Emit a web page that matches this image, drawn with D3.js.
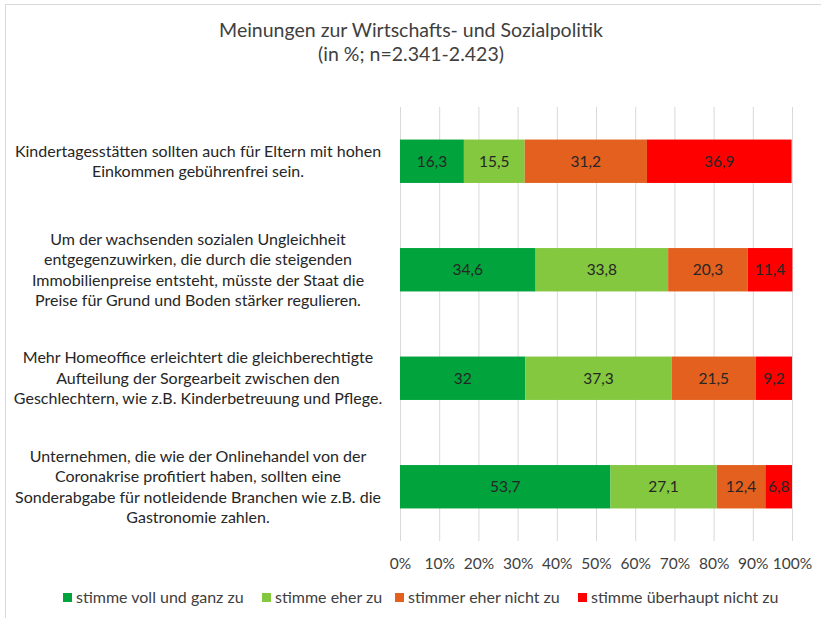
<!DOCTYPE html>
<html><head><meta charset="utf-8">
<script src="https://cdn.jsdelivr.net/npm/d3@7"></script>
<style>body{margin:0;background:#fff}svg{display:block;font-family:Lato,"Open Sans",sans-serif}</style>
</head><body><svg id="c" width="821" height="618"></svg>
<script>
const title = ["Meinungen zur Wirtschafts- und Sozialpolitik", "(in %; n=2.341-2.423)"];
const categories = [
  ["Kindertagesstätten sollten auch für Eltern mit hohen", "Einkommen gebührenfrei sein."],
  ["Um der wachsenden sozialen Ungleichheit", "entgegenzuwirken, die durch die steigenden", "Immobilienpreise entsteht, müsste der Staat die", "Preise für Grund und Boden stärker regulieren."],
  ["Mehr Homeoffice erleichtert die gleichberechtigte", "Aufteilung der Sorgearbeit zwischen den", "Geschlechtern, wie z.B. Kinderbetreuung und Pflege."],
  ["Unternehmen, die wie der Onlinehandel von der", "Coronakrise profitiert haben, sollten eine", "Sonderabgabe für notleidende Branchen wie z.B. die", "Gastronomie zahlen."]
];
const seriesNames = ["stimme voll und ganz zu", "stimme eher zu", "stimmer eher nicht zu", "stimme überhaupt nicht zu"];
const vollUndGanz = [16.3, 34.6, 32, 53.7];
const eher = [15.5, 33.8, 37.3, 27.1];
const eherNicht = [31.2, 20.3, 21.5, 12.4];
const ueberhauptNicht = [36.9, 11.4, 9.2, 6.8];
const colors = ["#00a33c", "#83c83e", "#e4601f", "#ff0000"];
const ticks = [0,10,20,30,40,50,60,70,80,90,100];

const series = [vollUndGanz, eher, eherNicht, ueberhauptNicht];
const svg = d3.select("#c");
const fmt = v => String(v).replace(".", ",");

// border
svg.append("rect").attr("x",5.5).attr("y",4.5).attr("width",900).attr("height",700)
  .attr("fill","none").attr("stroke","#d9d9d9").attr("stroke-width",1);

// title
svg.append("g").selectAll("text").data(title).join("text")
  .attr("x",411).attr("y",(d,i)=>37+i*24).attr("text-anchor","middle")
  .attr("fill","#404040").attr("font-size",19.5).text(d=>d);

const x = d3.scaleLinear().domain([0,100]).range([400,792]);
const y = d3.scaleBand().domain(d3.range(categories.length)).range([107,541]).paddingInner(0.6).paddingOuter(0.3);

// gridlines
svg.append("g").selectAll("line").data(ticks).join("line")
  .attr("x1",d=>x(d)+0.5).attr("x2",d=>x(d)+0.5).attr("y1",107).attr("y2",541)
  .attr("stroke","#d9d9d9").attr("stroke-width",1);

// axis labels
const ax = svg.append("g").attr("transform","translate(0,541)")
  .call(d3.axisBottom(x).tickValues(ticks).tickFormat(d=>d+"%").tickSize(0).tickPadding(17));
ax.select(".domain").remove();
ax.selectAll("text").attr("font-size",15.5).attr("fill","#404040").attr("font-family","Lato");

// bars
const stacked = categories.map((c,i)=>{
  let acc=0; return series.map((s,k)=>{const v=s[i]; const r={i,k,x0:acc,x1:acc+v,v}; acc+=v; return r;});
}).flat();
const g = svg.append("g");
g.selectAll("rect").data(stacked).join("rect")
  .attr("x",d=>x(d.x0)).attr("width",d=>x(d.x1)-x(d.x0))
  .attr("y",d=>y(d.i)).attr("height",y.bandwidth())
  .attr("fill",d=>colors[d.k]);
g.selectAll("text").data(stacked).join("text")
  .attr("x",d=>(x(d.x0)+x(d.x1))/2).attr("y",d=>y(d.i)+y.bandwidth()/2).attr("dy","0.35em")
  .attr("text-anchor","middle").attr("font-size",15.5).attr("fill","#262626").text(d=>fmt(d.v));

// category labels
const lg = svg.append("g");
categories.forEach((lines,i)=>{
  const cy = y(i)+y.bandwidth()/2;
  const lh = 20.5;
  lg.append("text").attr("text-anchor","middle").attr("font-size",16).attr("fill","#262626")
    .selectAll("tspan").data(lines).join("tspan")
    .attr("x",198).attr("y",(d,j)=>cy + (j-(lines.length-1)/2)*lh).attr("dy","0.35em").text(d=>d);
});

// legend
const legX = [63, 262, 395, 578];
const leg = svg.append("g");
seriesNames.forEach((n,k)=>{
  leg.append("rect").attr("x",legX[k]).attr("y",593).attr("width",9).attr("height",9).attr("fill",colors[k]);
  leg.append("text").attr("x",legX[k]+13).attr("y",597.5).attr("dy","0.35em").attr("font-size",16)
    .attr("fill","#404040").text(n);
});
</script></body></html>
